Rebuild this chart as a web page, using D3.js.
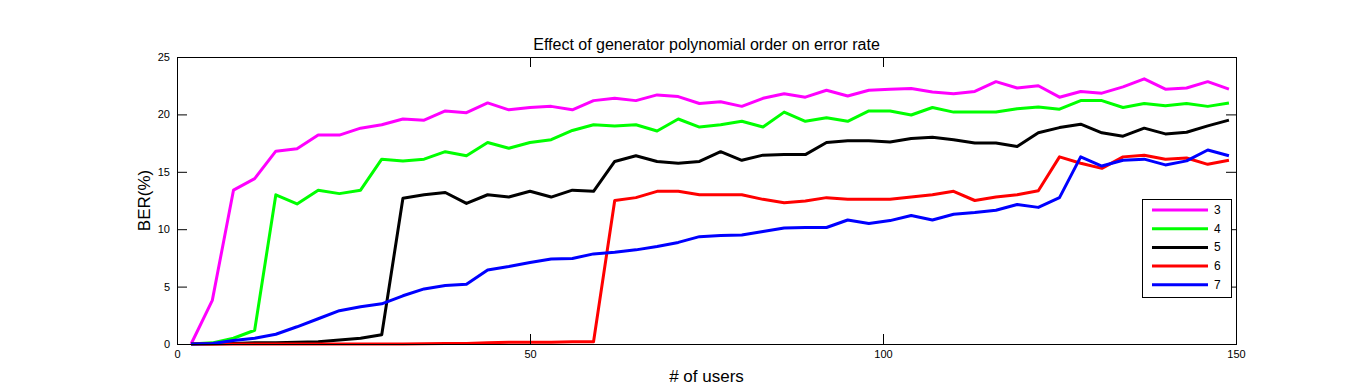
<!DOCTYPE html>
<html>
<head>
<meta charset="utf-8">
<script src="https://cdn.jsdelivr.net/npm/d3@7"></script>
<style>
  body { margin: 0; background: #fff; }
  svg { display: block; font-family: "Liberation Sans", Arial, sans-serif; }
</style>
</head>
<body>
<script>
// number of users, sampled every 3 users
const users = d3.range(2, 150, 3);

// BER(%) for each generator polynomial order
const order3 = [0, 3.8, 13.4, 14.4, 16.8, 17.0, 18.2, 18.2, 18.8, 19.1,
  19.6, 19.5, 20.3, 20.15, 21.0, 20.4, 20.6, 20.7, 20.4, 21.2,
  21.4, 21.2, 21.7, 21.55, 20.95, 21.1, 20.7, 21.4, 21.8, 21.5,
  22.1, 21.6, 22.1, 22.2, 22.25, 21.95, 21.8, 22.0, 22.85, 22.3,
  22.5, 21.5, 22.0, 21.85, 22.4, 23.1, 22.2, 22.3, 22.85, 22.2];
const order4 = [0, 0.1, 0.5, 1.2, 13.0, 12.2, 13.4, 13.1, 13.4, 16.1,
  15.95, 16.1, 16.75, 16.4, 17.55, 17.05, 17.55, 17.8, 18.6, 19.1,
  19.0, 19.1, 18.55, 19.6, 18.9, 19.1, 19.4, 18.9, 20.2, 19.4,
  19.7, 19.4, 20.3, 20.3, 19.95, 20.6, 20.2, 20.2, 20.2, 20.5,
  20.65, 20.45, 21.2, 21.2, 20.6, 20.95, 20.75, 20.95, 20.7, 21.0];
const order5 = [0, 0, 0.05, 0.1, 0.1, 0.15, 0.2, 0.35, 0.5, 0.8,
  12.7, 13.0, 13.2, 12.25, 13.0, 12.8, 13.3, 12.8, 13.4, 13.3,
  15.9, 16.4, 15.9, 15.75, 15.9, 16.75, 16.0, 16.45, 16.5, 16.5,
  17.55, 17.7, 17.7, 17.6, 17.9, 18.0, 17.8, 17.5, 17.5, 17.2,
  18.4, 18.85, 19.15, 18.4, 18.1, 18.8, 18.3, 18.45, 19.0, 19.5];
const order6 = [0, 0, 0, 0, 0, 0, 0, 0, 0, 0,
  0, 0.02, 0.05, 0.05, 0.1, 0.15, 0.15, 0.15, 0.2, 0.2,
  12.5, 12.75, 13.3, 13.3, 13.0, 13.0, 13.0, 12.6, 12.3, 12.45,
  12.75, 12.6, 12.6, 12.6, 12.8, 13.0, 13.3, 12.5, 12.8, 13.0,
  13.35, 16.3, 15.75, 15.3, 16.3, 16.45, 16.1, 16.2, 15.65, 16.0];
const order7 = [0, 0.05, 0.3, 0.5, 0.85, 1.5, 2.2, 2.9, 3.25, 3.5,
  4.2, 4.8, 5.1, 5.2, 6.45, 6.75, 7.1, 7.4, 7.45, 7.85,
  8.0, 8.2, 8.5, 8.85, 9.35, 9.45, 9.5, 9.8, 10.1, 10.15,
  10.15, 10.8, 10.5, 10.75, 11.2, 10.8, 11.3, 11.45, 11.65, 12.15,
  11.9, 12.75, 16.3, 15.5, 16.0, 16.1, 15.6, 15.95, 16.9, 16.4];

const seriesNames = ['3', '4', '5', '6', '7'];
const seriesValues = [order3, order4, order5, order6, order7];
const seriesColors = ['#ff00ff', '#00ff00', '#000000', '#ff0000', '#0000ff'];

const xTicks = [0, 50, 100, 150];
const yTicks = [0, 5, 10, 15, 20, 25];

const W = 1366, H = 387;
const margin = { top: 57, right: 130, bottom: 43, left: 177 };
const plotW = W - margin.left - margin.right;
const plotH = H - margin.top - margin.bottom;

const svg = d3.select('body').append('svg')
    .attr('width', W)
    .attr('height', H);

const x = d3.scaleLinear().domain([0, 150]).range([0, plotW]);
const y = d3.scaleLinear().domain([0, 25]).range([plotH, 0]);

const g = svg.append('g')
    .attr('transform', `translate(${margin.left},${margin.top})`);

// lines
const line = d3.line()
    .x((d, i) => x(users[i]))
    .y(d => y(d));

seriesValues.forEach((vals, k) => {
    g.append('path')
        .datum(vals)
        .attr('fill', 'none')
        .attr('stroke', seriesColors[k])
        .attr('stroke-width', 3)
        .attr('stroke-linejoin', 'round')
        .attr('d', line);
});

// axes, ticks pointing inward like matlab
function styleAxis(sel, showLabels) {
    sel.select('.domain').remove();
    sel.selectAll('.tick line').attr('stroke', '#000');
    sel.selectAll('.tick text')
        .style('font-size', '11px')
        .attr('fill', '#000');
    if (!showLabels) sel.selectAll('.tick text').remove();
}

g.append('g')
    .attr('transform', `translate(0,${plotH})`)
    .call(d3.axisBottom(x).tickValues(xTicks).tickSizeInner(-10).tickSizeOuter(0).tickPadding(6))
    .call(s => styleAxis(s, true));
g.append('g')
    .call(d3.axisTop(x).tickValues(xTicks).tickSizeInner(-10).tickSizeOuter(0))
    .call(s => styleAxis(s, false));
g.append('g')
    .call(d3.axisLeft(y).tickValues(yTicks).tickSizeInner(-10).tickSizeOuter(0).tickPadding(7))
    .call(s => styleAxis(s, true));
g.append('g')
    .attr('transform', `translate(${plotW},0)`)
    .call(d3.axisRight(y).tickValues(yTicks).tickSizeInner(-10).tickSizeOuter(0))
    .call(s => styleAxis(s, false));

// box
g.append('rect')
    .attr('x', 0).attr('y', 0)
    .attr('width', plotW).attr('height', plotH)
    .attr('fill', 'none')
    .attr('stroke', '#000')
    .attr('stroke-width', 1)
    .attr('shape-rendering', 'crispEdges');

// title and labels
svg.append('text')
    .attr('x', margin.left + plotW / 2)
    .attr('y', 50)
    .attr('text-anchor', 'middle')
    .style('font-size', '16px')
    .text('Effect of generator polynomial order on error rate');

svg.append('text')
    .attr('x', margin.left + plotW / 2)
    .attr('y', 382)
    .attr('text-anchor', 'middle')
    .style('font-size', '17px')
    .text('# of users');

svg.append('text')
    .attr('transform', `translate(150,${margin.top + plotH / 2}) rotate(-90)`)
    .attr('text-anchor', 'middle')
    .style('font-size', '17px')
    .text('BER(%)');

// legend
const legend = svg.append('g').attr('transform', 'translate(1142,199)');
legend.append('rect')
    .attr('width', 89).attr('height', 98)
    .attr('fill', '#fff')
    .attr('stroke', '#000')
    .attr('shape-rendering', 'crispEdges');
seriesNames.forEach((name, k) => {
    const ly = 11 + k * 18.7;
    legend.append('line')
        .attr('x1', 10).attr('x2', 66)
        .attr('y1', ly).attr('y2', ly)
        .attr('stroke', seriesColors[k])
        .attr('stroke-width', 3);
    legend.append('text')
        .attr('x', 72).attr('y', ly + 4)
        .style('font-size', '12px')
        .text(name);
});
</script>
</body>
</html>
